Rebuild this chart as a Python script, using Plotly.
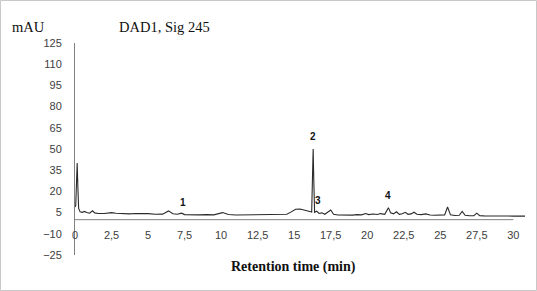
import plotly.graph_objects as go

# Retention time (min) and absorbance (mAU)
time_min = [0.0, 0.05, 0.1, 0.15, 0.2, 0.25, 0.35, 0.5, 0.65, 0.8, 1.0, 1.2, 1.35, 1.6, 2.0,
            2.5, 2.8, 3.2, 3.7, 4.2, 4.6, 5.0, 5.5, 6.0, 6.4, 6.7, 7.0, 7.3, 7.5, 8.0, 8.5,
            9.0, 9.5, 10.1, 10.5, 11.0, 11.5, 12.0, 12.5, 13.0, 13.5, 14.0, 14.5, 14.8, 15.1,
            15.4, 15.7, 16.0, 16.2, 16.25, 16.3, 16.35, 16.4, 16.55, 16.7, 16.9, 17.1, 17.5,
            17.7, 18.0, 18.5, 19.0, 19.3, 19.6, 19.9, 20.1, 20.4, 20.7, 20.9, 21.2, 21.45,
            21.6, 21.8, 22.0, 22.2, 22.4, 22.6, 22.8, 23.0, 23.2, 23.4, 23.7, 24.0, 24.3,
            24.6, 25.0, 25.3, 25.5, 25.7, 26.0, 26.3, 26.5, 26.7, 27.0, 27.3, 27.5, 27.7,
            28.0, 28.5, 29.0, 29.5, 30.0, 30.5, 30.8]
signal_mau = [9, 10, 25, 40, 22, 8, 5.5, 5.2, 5.8, 5.0, 4.6, 6.3, 4.8, 4.4, 4.4,
              5.0, 4.5, 4.3, 4.1, 4.4, 4.6, 4.3, 3.8, 3.9, 6.2, 4.2, 3.8, 4.6, 3.6, 3.4, 3.4,
              3.6, 3.4, 5.0, 3.6, 3.3, 3.3, 3.4, 3.3, 3.3, 3.4, 3.3, 3.8, 5.5, 7.4,
              7.6, 7.0, 6.0, 5.4, 25, 50, 25, 5.2, 6.0, 4.4, 4.8, 3.8, 6.8,
              3.8, 3.3, 3.1, 3.2, 3.6, 3.4, 4.3, 3.6, 4.0, 3.7, 4.3, 3.8, 8.5,
              4.8, 4.1, 5.6, 3.8, 4.2, 5.2, 3.8, 4.1, 5.3, 3.8, 3.6, 4.1, 3.3,
              3.1, 3.2, 3.4, 9.0, 3.4, 3.0, 3.1, 5.8, 3.1, 2.8, 2.8, 4.6, 2.8,
              2.7, 2.8, 2.6, 2.6, 2.5, 2.5, 2.5]

x_ticks = [0, 2.5, 5, 7.5, 10, 12.5, 15, 17.5, 20, 22.5, 25, 27.5, 30]
x_tick_text = ["0", "2,5", "5", "7,5", "10", "12,5", "15", "17,5", "20", "22,5", "25", "27,5", "30"]
y_ticks = [-25, -10, 5, 20, 35, 50, 65, 80, 95, 110, 125]

peak_labels = ["1", "2", "3", "4"]
peak_x = [7.4, 16.3, 16.6, 21.45]
peak_y = [8.5, 55, 10, 13]

W, H = 537, 291
ML, MR, MT, MB = 75, 12, 43, 36
PW, PH = W - ML - MR, H - MT - MB
YMIN, YMAX = -25, 125

fig = go.Figure()
fig.add_trace(go.Scatter(x=time_min, y=signal_mau, mode="lines",
                         line=dict(color="#2a2a2a", width=1.1), hoverinfo="skip"))

for lab, px, py in zip(peak_labels, peak_x, peak_y):
    fig.add_annotation(x=px, y=py, text="<b>%s</b>" % lab, showarrow=False,
                       font=dict(family="Liberation Sans", size=10, color="#111"),
                       yanchor="bottom", yshift=-2)

tick_font = dict(family="Liberation Sans", size=11, color="#404040")
fig.update_layout(
    width=W, height=H,
    margin=dict(l=ML, r=MR, t=MT, b=MB),
    paper_bgcolor="white", plot_bgcolor="white",
    showlegend=False,
    xaxis=dict(range=[0, 30.8], tickvals=x_ticks, ticktext=x_tick_text,
               showgrid=False, zeroline=False, showline=False, ticks="",
               anchor="free", position=(0 - YMIN) / (YMAX - YMIN),
               tickfont=tick_font, ticklabelstandoff=7),
    yaxis=dict(range=[YMIN, YMAX], tickvals=y_ticks, showgrid=False, zeroline=False,
               showline=True, linecolor="#808080", linewidth=1, ticks="",
               tickfont=tick_font, ticklabelstandoff=10),
)

# x axis line at y = 0 from 0 to 30
fig.add_shape(type="line", xref="x", yref="y", x0=0, x1=30, y0=0, y1=0,
              line=dict(color="#808080", width=1))

# outer border of the picture
fig.add_shape(type="rect", xref="paper", yref="paper",
              x0=(0.5 - ML) / PW, x1=(W - 0.5 - ML) / PW,
              y0=-(MB - 0.5) / PH, y1=(H - MB - 0.5) / PH,
              line=dict(color="#c8c8c8", width=1), fillcolor="rgba(0,0,0,0)")

serif = "Liberation Serif"
fig.add_annotation(xref="paper", yref="paper", x=(10 - ML) / PW, y=(H - MB - 27) / PH,
                   text="mAU", showarrow=False, xanchor="left", yanchor="middle",
                   font=dict(family=serif, size=14.5, color="#111"))
fig.add_annotation(xref="paper", yref="paper", x=(117 - ML) / PW, y=(H - MB - 27) / PH,
                   text="DAD1, Sig 245", showarrow=False, xanchor="left", yanchor="middle",
                   font=dict(family=serif, size=14.5, color="#111"))
fig.add_annotation(xref="paper", yref="paper", x=(293 - ML) / PW, y=(H - MB - 267) / PH,
                   text="<b>Retention time (min)</b>", showarrow=False,
                   xanchor="center", yanchor="middle",
                   font=dict(family=serif, size=14, color="#111"))

fig.write_html("out.html", config={"displayModeBar": False},
               post_script="document.body.style.margin='0';")
